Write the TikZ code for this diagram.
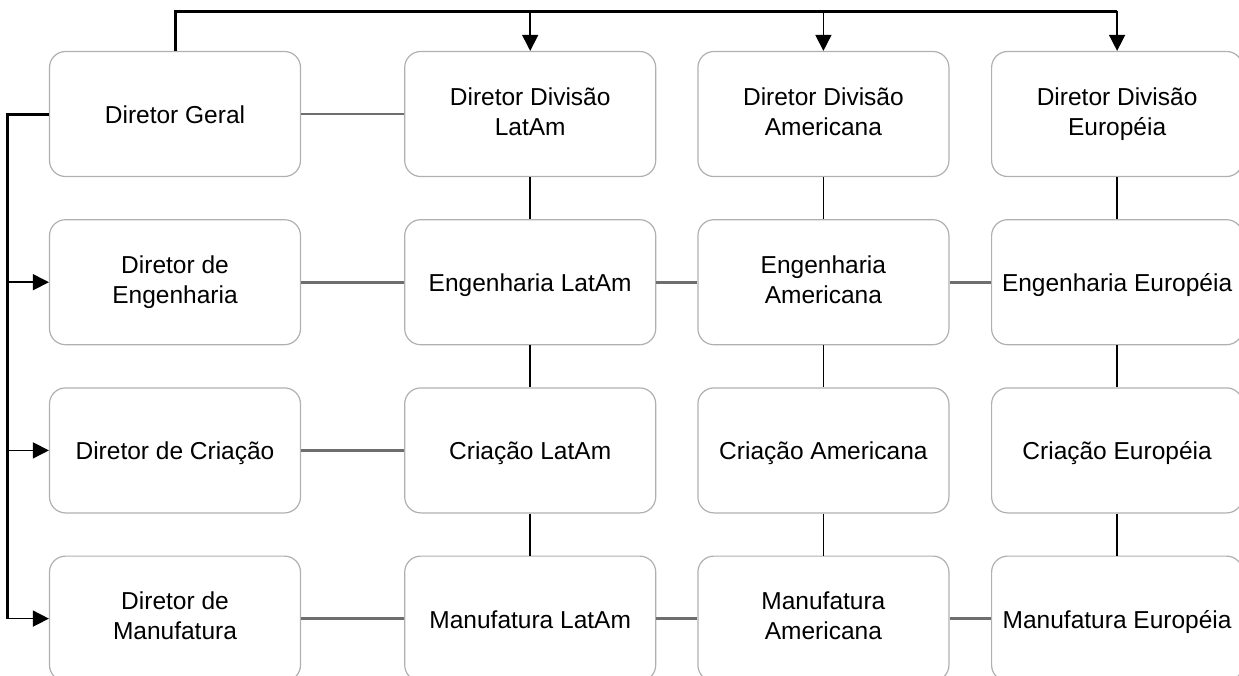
\documentclass[tikz,border=0pt]{standalone}
\usepackage{fontspec}
\setmainfont{Liberation Sans}
\usetikzlibrary{positioning,arrows.meta}
\definecolor{boxgray}{HTML}{B0B0B0}
\definecolor{linkgray}{HTML}{6E6E6E}
\newcommand\boxstrut{\rule[-5.5pt]{0pt}{30pt}}

\begin{document}
\begin{tikzpicture}[x=1pt,y=-1pt,node distance=42pt and 41pt,
  box/.style={draw=boxgray,line width=1.2pt,rounded corners=16pt,minimum width=251pt,minimum height=125pt,inner sep=0pt,align=center,font=\fontsize{24.5}{30}\selectfont,execute at begin node=\boxstrut,execute at end node=\boxstrut},
  link/.style={draw=linkgray,line width=2.8pt},
  vlink/.style={draw=black,line width=1.5pt},
  trunk/.style={draw=black,line width=3pt},
  branch/.style={draw=black,line width=1.5pt,-{Triangle[length=16pt,width=16pt]}}]
\useasboundingbox (0,0) rectangle (1239,675);

\node[box] (geral) at (175,114) {Diretor Geral};
\node[box,right=103pt of geral] (div_latam) {Diretor Divisão\\LatAm};
\node[box,right=of div_latam] (div_americana) {Diretor Divisão\\Americana};
\node[box,right=41.5pt of div_americana] (div_europeia) {Diretor Divisão\\Européia};

\node[box,below=of geral] (dir_eng) {Diretor de\\Engenharia};
\node[box,below=of div_latam] (eng_latam) {Engenharia LatAm};
\node[box,below=of div_americana] (eng_americana) {Engenharia\\Americana};
\node[box,below=of div_europeia] (eng_europeia) {Engenharia Européia};

\node[box,below=of dir_eng] (dir_criacao) {Diretor de Criação};
\node[box,below=of eng_latam] (criacao_latam) {Criação LatAm};
\node[box,below=of eng_americana] (criacao_americana) {Criação Americana};
\node[box,below=of eng_europeia] (criacao_europeia) {Criação Européia};

\node[box,below=of dir_criacao] (dir_manuf) {Diretor de\\Manufatura};
\node[box,below=of criacao_latam] (manuf_latam) {Manufatura LatAm};
\node[box,below=of criacao_americana] (manuf_americana) {Manufatura\\Americana};
\node[box,below=of criacao_europeia] (manuf_europeia) {Manufatura Européia};

\coordinate (trunk_top) at (0,11);
\coordinate (trunk_left) at (7.5,0);

\draw[link] (geral) -- (div_latam);
\draw[link] (dir_eng) -- (eng_latam);
\draw[link] (eng_latam) -- (eng_americana);
\draw[link] (eng_americana) -- (eng_europeia);
\draw[link] (dir_criacao) -- (criacao_latam);
\draw[link] (dir_manuf) -- (manuf_latam);
\draw[link] (manuf_latam) -- (manuf_americana);
\draw[link] (manuf_americana) -- (manuf_europeia);

\draw[vlink] (div_latam) -- (eng_latam);
\draw[vlink] (eng_latam) -- (criacao_latam);
\draw[vlink] (criacao_latam) -- (manuf_latam);
\draw[vlink] (div_americana) -- (eng_americana);
\draw[vlink] (eng_americana) -- (criacao_americana);
\draw[vlink] (criacao_americana) -- (manuf_americana);
\draw[vlink] (div_europeia) -- (eng_europeia);
\draw[vlink] (eng_europeia) -- (criacao_europeia);
\draw[vlink] (criacao_europeia) -- (manuf_europeia);

\draw[trunk,line join=miter] (geral.north) -- (geral.north |- trunk_top) -- (div_europeia.north |- trunk_top);
\draw[branch] (div_latam.north |- trunk_top) -- (div_latam.north);
\draw[branch] (div_americana.north |- trunk_top) -- (div_americana.north);
\draw[branch] (div_europeia.north |- trunk_top) -- (div_europeia.north);

\draw[trunk,line join=miter] (geral.west) -- (geral.west -| trunk_left) -- (dir_manuf.west -| trunk_left);
\draw[branch] (dir_eng.west -| trunk_left) -- (dir_eng.west);
\draw[branch] (dir_criacao.west -| trunk_left) -- (dir_criacao.west);
\draw[branch] (dir_manuf.west -| trunk_left) -- (dir_manuf.west);
\end{tikzpicture}
\end{document}
